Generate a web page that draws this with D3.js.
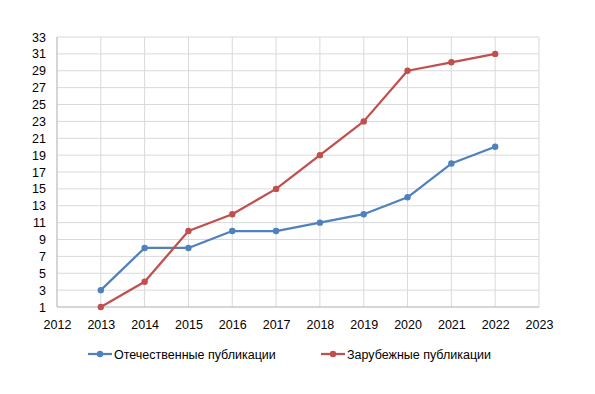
<!DOCTYPE html>
<html><head><meta charset="utf-8">
<script src="https://cdn.jsdelivr.net/npm/d3@7"></script>
<style>body{margin:0;background:#fff}svg{display:block;font-family:"Liberation Sans",Arial,Helvetica,sans-serif}</style>
</head><body><svg id="c" width="595" height="394"></svg>
<script>
const years = [2013,2014,2015,2016,2017,2018,2019,2020,2021,2022];
const domestic = [3,8,8,10,10,11,12,14,18,20];
const foreign = [1,4,10,12,15,19,23,29,30,31];
const seriesNames = ["Отечественные публикации","Зарубежные публикации"];
const colors = ["#4F81BD","#C0504D"];
const xTicks = d3.range(2012,2024);
const yTicks = d3.range(1,34,2);

const svg = d3.select("#c");
const x = d3.scaleLinear().domain([2012,2023]).range([57,539]);
const y = d3.scaleLinear().domain([1,33]).range([307,37]);
const FS = 12.5;

const g = svg.append("g");
g.selectAll(".hg").data(yTicks).join("line")
 .attr("x1",x(2012)).attr("x2",x(2023)).attr("y1",d=>y(d)).attr("y2",d=>y(d))
 .attr("stroke","#d9d9d9").attr("stroke-width",1);
g.selectAll(".vg").data(xTicks).join("line")
 .attr("x1",d=>x(d)).attr("x2",d=>x(d)).attr("y1",y(1)).attr("y2",y(33))
 .attr("stroke","#d9d9d9").attr("stroke-width",1);
g.append("line").attr("x1",x(2012)).attr("x2",x(2023)).attr("y1",y(1)).attr("y2",y(1)).attr("stroke","#bfbfbf");
g.append("line").attr("x1",x(2012)).attr("x2",x(2012)).attr("y1",y(1)).attr("y2",y(33)).attr("stroke","#bfbfbf");

const yAxis = svg.append("g").attr("transform",`translate(${x(2012)},0)`)
 .call(d3.axisLeft(y).tickValues(yTicks).tickSize(0).tickPadding(11));
yAxis.select(".domain").remove();
yAxis.selectAll("text").attr("font-size",FS).attr("fill","#000").attr("font-family","Liberation Sans,Arial,sans-serif");
const xAxis = svg.append("g").attr("transform",`translate(0,${y(1)})`)
 .call(d3.axisBottom(x).tickValues(xTicks).tickFormat(d3.format("d")).tickSize(0).tickPadding(13));
xAxis.select(".domain").remove();
xAxis.selectAll("text").attr("font-size",FS).attr("fill","#000").attr("font-family","Liberation Sans,Arial,sans-serif");

const data = [domestic, foreign];
const line = d3.line().x((d,i)=>x(years[i])).y(d=>y(d));
data.forEach((s,k)=>{
  svg.append("path").datum(s).attr("d",line).attr("fill","none")
   .attr("stroke",colors[k]).attr("stroke-width",2.25).attr("stroke-linejoin","round");
  svg.selectAll(".m"+k).data(s).join("circle")
   .attr("cx",(d,i)=>x(years[i])).attr("cy",d=>y(d)).attr("r",3.2).attr("fill",colors[k]);
});

const legX = [88,321];
seriesNames.forEach((n,k)=>{
  const lg = svg.append("g").attr("transform",`translate(${legX[k]},354)`);
  lg.append("line").attr("x1",0).attr("x2",24).attr("stroke",colors[k]).attr("stroke-width",2.25);
  lg.append("circle").attr("cx",12).attr("r",3.2).attr("fill",colors[k]);
  lg.append("text").attr("x",26).attr("y",4.5).attr("font-size",FS).text(n);
});
</script></body></html>
